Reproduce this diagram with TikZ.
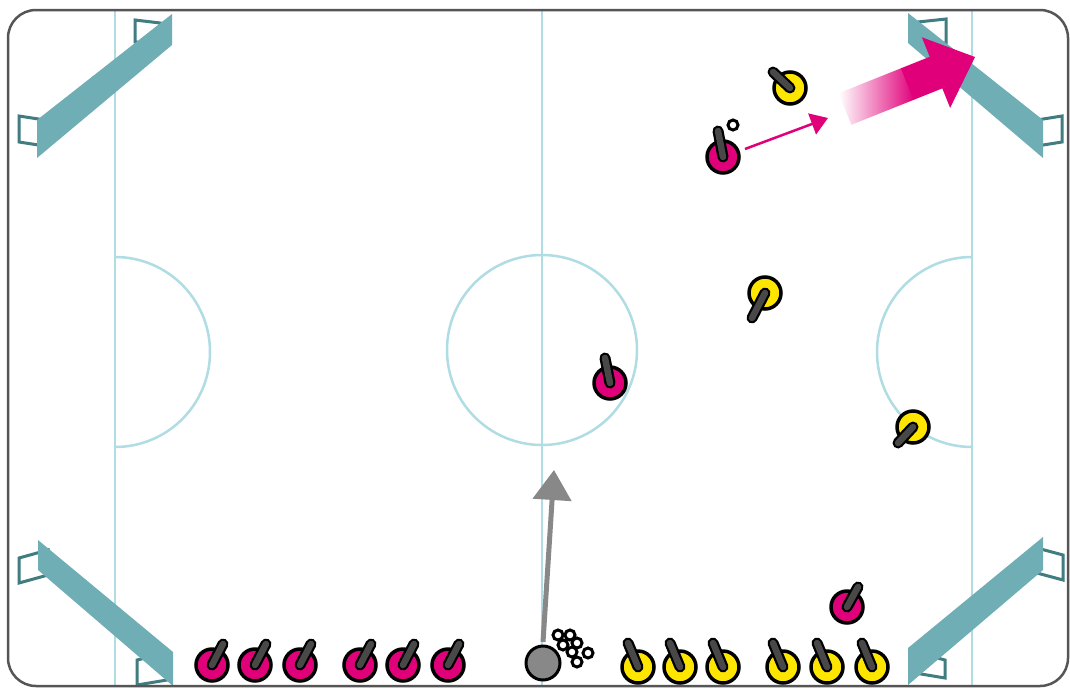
\documentclass[tikz,border=0pt]{standalone}
\usepackage{xcolor}
\usepackage{tikz}
\usetikzlibrary{arrows.meta}
\definecolor{rinkline}{RGB}{176,220,228}
\definecolor{barrier}{RGB}{111,174,180}
\definecolor{netline}{RGB}{64,124,128}
\definecolor{pinkteam}{RGB}{224,0,122}
\definecolor{yellowteam}{RGB}{255,230,0}
\definecolor{stickgray}{RGB}{72,72,72}
\definecolor{ballgray}{RGB}{136,136,136}
\definecolor{border}{RGB}{85,85,85}

% x, y, team colour, stick offset dx, dy
\newcommand{\player}[5]{%
  \draw[line width=3.5pt,fill=#3] (#1,#2) circle (16);
  \draw[line width=11pt,line cap=round] (#1,#2) -- ++(#4,#5);
  \draw[line width=6.5pt,line cap=round,stickgray] (#1,#2) -- ++(#4,#5);
}

\begin{document}
\begin{tikzpicture}[x=1pt, y=-1pt,
    rink/.style={line width=2.5pt, rinkline},
    net/.style={line width=3pt, netline, fill=white, line join=miter},
    wall/.style={fill=barrier},
    puck/.style={line width=3pt, fill=white}]
  \useasboundingbox[fill=white] (0,0) rectangle (1070,688);

  % rink markings
  \foreach \lx in {115,542,972}
    \draw[rink] (\lx,10) -- (\lx,686);
  \draw[rink] (542,350) circle (95);
  \draw[rink] (115,257) arc[start angle=-90, end angle=90, radius=95];
  \draw[rink] (972,257) arc[start angle=-90, end angle=-270, radius=95];

  % goals: nets behind, walls in front
  \draw[net] (19,116) -- (45,120) -- (45,146) -- (19,142) -- cycle;
  \draw[net] (135,20) -- (160,23) -- (160,44) -- (135,42) -- cycle;
  \draw[net] (918,22) -- (946,19) -- (946,43) -- (918,45) -- cycle;
  \draw[net] (1037,120) -- (1062,116) -- (1062,142) -- (1037,146) -- cycle;
  \draw[net] (19,558) -- (48,550) -- (48,575) -- (19,583) -- cycle;
  \draw[net] (137,660) -- (167,653) -- (167,680) -- (137,685) -- cycle;
  \draw[net] (1037,548) -- (1063,555) -- (1063,580) -- (1037,573) -- cycle;
  \draw[net] (915,652) -- (945,660) -- (945,678) -- (915,673) -- cycle;
  \fill[wall] (37,120) -- (172,14) -- (172,45) -- (37,158) -- cycle;
  \fill[wall] (908,13) -- (1043,120) -- (1043,158) -- (908,43) -- cycle;
  \fill[wall] (38,540) -- (173,652) -- (173,686) -- (38,570) -- cycle;
  \fill[wall] (908,648) -- (1043,537) -- (1043,570) -- (908,685) -- cycle;

  % border
  \draw[line width=2.5pt, border, rounded corners=28] (8,10) rectangle (1068,686);

  % shot arrow
  \begin{scope}[shift={(975,57)}, rotate=21.8]
    \shade[left color=white, right color=pinkteam, draw=none] (-140,-17) rectangle (-72,17);
    \fill[pinkteam] (-73,-17) rectangle (-38,17);
    \fill[pinkteam] (0,0) -- (-42,-38) -- (-42,38) -- cycle;
  \end{scope}

  % pass arrows
  \coordinate (passfrom) at (745,149);
  \coordinate (passto) at (828,118);
  \draw[line width=2.5pt, pinkteam, -{Triangle[width=22pt,length=17pt]}] (passfrom) -- (passto);
  \coordinate (hitfrom) at (543,642);
  \coordinate (hitto) at (554,470);
  \draw[line width=5pt, ballgray, -{Triangle[width=38pt,length=30pt]}] (hitfrom) -- (hitto);

  % players on ice
  \player{723}{157}{pinkteam}{-5}{-26}
  \draw[puck] (733,125) circle (5);
  \player{790}{88}{yellowteam}{-17}{-16}
  \player{610}{383}{pinkteam}{-5}{-25}
  \player{765}{293}{yellowteam}{-13}{25}
  \player{913}{427}{yellowteam}{-15}{16}
  \player{847}{607}{pinkteam}{11}{-20}

  % benches
  \foreach \px in {212,255,300,360,403,448}
    {\player{\px}{665}{pinkteam}{11}{-21}}
  \foreach \px in {638,680,723,783,827,872}
    {\player{\px}{667}{yellowteam}{-10}{-24}}

  % ball and spare pucks
  \draw[line width=3pt, fill=ballgray] (543,663) circle (17);
  \foreach \bx/\by in {558/635, 570/635, 563/645, 577/643, 572/652, 588/653, 577/662}
    \draw[puck] (\bx,\by) circle (5);
\end{tikzpicture}
\end{document}
